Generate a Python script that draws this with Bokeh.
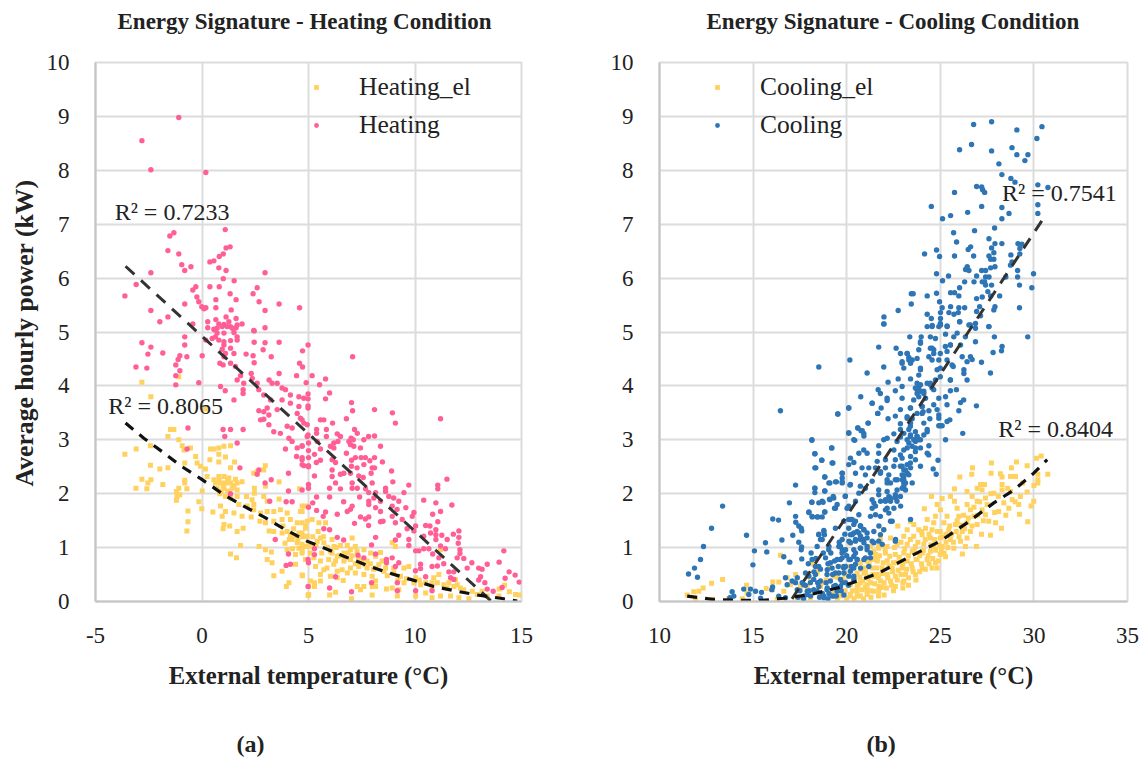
from bokeh.plotting import figure
from bokeh.layouts import row
from bokeh.models import Label, Legend, LegendItem, FixedTicker, ColumnDataSource, LinearAxis, Title
from bokeh.embed import file_html
from bokeh.resources import INLINE

heating = [(-1.09,8.98),(-2.82,8.55),(-2.4,8.01),(.18,7.96),(1.09,6.9),(-1.32,6.84),(-1.51,6.78),(-1.6,6.51),(-1.09,6.45),(-.95,6.25),(-.81,6.14),(-.52,6.21),(-2.4,6.1),(.37,6.3),(.56,6.32),(.81,6.4),(1,6.45),(1.13,6.56),(1.32,6.58),(.79,6.19),(1.13,6.14),(2.96,6.1),(1,5.99),(1.51,5.95),(-3.09,5.88),(-3.62,5.67),(-.29,5.84),(-.43,5.78),(.37,5.84),(.81,5.84),(2.59,5.82),(2.4,5.71),(-.24,5.65),(.65,5.6),(1.32,5.71),(1.6,5.6),(2.68,5.56),(-.15,5.56),(-.81,5.52),(-.01,5.47),(.09,5.43),(.18,5.45),(.65,5.45),(1.37,5.41),(3.62,5.52),(4.58,5.45),(2.96,5.4),(-2.4,5.4),(-1.6,5.28),(-1.98,5.19),(-.43,5.15),(.65,5.23),(1.13,5.28),(1.6,5.25),(.27,5.19),(1.88,5.15),(.79,5.15),(1.03,5.14),(1.26,5.19),(1.34,5.1),(1.18,5.1),(.27,5.08),(.56,5.05),(1.6,5.08),(2.96,5.08),(2.43,5.03),
(.71,5.07),(.95,5.1),(1.42,5.07),(1.65,5.13),(.59,5.04),(.71,4.98),(1.03,4.98),(1.5,4.99),(1.65,4.91),(.63,4.91),(.79,4.85),(1.03,4.82),(1.34,4.84),(1.65,4.85),(.18,4.85),(.48,4.88),(-.81,4.91),(-.81,4.76),(.01,4.56),(-2.82,4.8),(-2.4,4.72),(-2.54,4.59),(-1.84,4.61),(-1.04,4.56),(-1.12,4.49),(-.71,4.54),(-1.23,4.39),(-3.1,4.35),(-2.59,4.33),(-1.23,4.19),(-1.04,4.28),(-1.23,4.02),(-.15,4.06),(1.03,4.76),(.95,4.68),(1.1,4.6),(1.34,4.7),(1.5,4.6),(1.03,4.54),(.84,4.42),(.99,4.39),(1.34,4.42),(1.57,4.36),(2.45,5.02),(2.45,4.81),(2.96,4.8),(3.62,4.81),(2.87,4.67),(2.07,4.59),(2.4,4.56),(2.45,4.43),(3.25,4.54),(4.72,4.65),(4.58,4.42),(4.72,4.35),(4.44,4.19),(3.62,4.23),(1.81,4.19),(2.31,4.23),(2.36,4.14),(1.65,4.11),(1.96,4.05),(3.15,4.11),(3.29,4.05),(3.53,4.05),(.87,3.99),(1.09,3.91),(1.93,3.93),(1.93,3.86),(1.5,3.74),(2.59,4.05),(2.67,3.93),(2.9,3.83),(3.22,3.74),(3.76,3.96),(3.92,3.93),(4.15,3.83),(4.55,3.8),(4.78,3.77),(3.76,3.74),(4.15,3.68),(4.55,3.62),(3.06,3.59),(2.9,3.52),(2.67,3.54),(2.9,3.38),(2.75,3.37),(3.14,3.46),(3.53,3.56),(3.14,3.28),(3.37,3.15),(3.68,3.12),(4,3.25),(4.23,3.22),(4.47,3.49),(4.62,3.4),(4.78,3.31),(4.08,3.03),(4.23,2.97),(4.94,3.06),(3.92,2.83),(4.47,2.85),(4.7,2.89),(4.44,2.69),(4.7,2.63),(4.78,2.52),(5,2.5),(-.66,3.22),(.99,3.19),(1.34,3.19),(1.93,3.19),(1.07,3.06),(1.65,2.94),(-.7,2.83),(1.78,2.48),(2.67,2.44),(4.06,2.38),(2.59,2.36),(3.25,2.26),(2.96,2.2),(4.06,2.05),(3.18,1.86),(3.95,1.85),(4.23,1.85),(3.44,1.15),(4.06,.88),(4.15,.69),(5,.72),(3.95,.67),(1.34,2),
(4.98,4.76),(5.17,4.19),(5.8,4.13),(5.52,4.02),(4.89,4.06),(5.99,3.87),(5.8,3.76),(4.98,3.85),(4.98,3.76),(4.98,3.63),(4.98,3.59),(7.07,4.54),(7.02,3.69),(7.07,3.54),(8.1,3.56),(8.94,3.5),(9.08,3.31),(11.2,3.39),(6.78,3.39),(5.56,3.37),(5.72,3.37),(6.13,3.31),(4.7,3.37),(4.94,3.28),(5.38,3.19),(5.84,3.19),(5.38,3.12),(5.84,3.06),(4.98,3.09),(6.35,3.11),(6.5,3.06),(7.16,3.19),(7.29,3.12),(7.82,3.06),(8.1,3.07),(7.6,3),(7,3.03),(6.9,2.97),(7.1,3),(6.19,2.94),(6.03,2.88),(6.38,2.97),(6.97,2.91),(7.13,2.88),(7.44,2.85),(8.38,2.88),(5.41,2.97),(5,2.94),(4.7,2.88),(5,2.8),(6.19,2.85),(5.56,2.83),(6.78,2.75),(5.28,2.73),(7.2,2.67),(7.47,2.67),(7.67,2.67),(8.1,2.67),(7.88,2.61),(8.47,2.59),(6.11,2.63),(6.27,2.58),(5.56,2.62),(5.37,2.58),(5,2.67),(4.7,2.67),(4.7,2.54),(5,2.52),(7.02,2.62),(7.02,2.51),(7.28,2.48),(7.6,2.54),(7.99,2.48),(8.1,2.48),(7.94,2.38),(8.9,2.42),(6.11,2.44),(6.11,2.32),(6.66,2.38),(6.5,2.36),(6.97,2.38),(7.36,2.33),(7.57,2.3),(5.28,2.33),(8.96,2.22),(7.99,2.2),(9.71,2.16),(11.5,2.27),(11.07,2.16),(11.07,2.09),(6.27,2.2),(5.99,2.1),(6.5,2.09),(7.05,2.2),(7.05,2.1),(7.29,2.1),(7.68,2.09),(7.83,2.02),(8.15,2.02),(8.62,2.1),(8.62,2.04),(9.48,2.02),(5,2.17),(5,2.1),(4.7,2.07),
(5.38,1.94),(5.99,1.94),(6.65,1.85),(7.4,1.94),(7.83,1.86),(8.07,1.92),(8.38,1.86),(8.77,1.95),(9,1.92),(9.24,1.86),(10.41,1.88),(10.98,1.83),(11.73,1.79),(5.2,1.83),(5,1.75),(5.38,1.69),(5.8,1.66),(5.69,1.58),(6.35,1.62),(6.82,1.67),(7.05,1.77),(6.97,1.71),(7.83,1.8),(8.15,1.74),(8.38,1.67),(8.93,1.77),(9.16,1.71),(9.57,1.74),(9.95,1.65),(9.87,1.58),(11.2,1.67),(10.83,1.62),(11.07,1.48),(7.44,1.57),(7.67,1.53),(7.83,1.57),(7.16,1.45),(7.82,1.41),(8.38,1.48),(8.5,1.49),(8.93,1.58),(9.08,1.46),(9.4,1.52),(9.63,1.35),(10.03,1.4),(10.5,1.41),(10.7,1.4),(5.72,1.35),(5.99,1.33),(9.95,1.31),(10.41,1.21),(10.73,1.27),(10.98,1.33),(10.98,1.24),(10.98,1.15),(11.26,1.23),(11.8,1.25),(12.06,1.31),(12.06,1.19),(12.03,1.08),(11.51,1.15),(9.71,1.15),(9.71,1.04),(9.24,1.23),(9.08,1.14),(6.35,1.19),(6.65,1.14),(8.15,1.19),(7.96,1.05),
(10.03,.94),(10.18,.94),(10.41,.98),(10.65,.98),(11.2,1.03),(11.43,.98),(10.83,.88),(11.12,.81),(11.35,.7),(12.11,.96),(12.11,.89),(11.98,.81),(12.29,.8),(14.17,.94),(13.95,.73),(12.67,.72),(13.39,.69),(12.99,.62),(13.15,.6),(12.45,.62),(14.42,.55),(14.7,.49),(14.89,.36),(13.08,.46),(12.99,.4),(14.23,.43),(14.09,.26),(13.67,.19),(13.28,.35),(13.39,.23),(11.59,.55),(11.67,.44),(11.82,.55),(11.82,.41),(10.8,.65),(10.26,.69),(10.26,.61),(10.02,.57),(10.5,.46),(11.05,.66),(10.03,.2),(10.8,.2),(9.17,.35),(9.17,.2),(8.93,.81),(8.66,.78),(8.66,.72),(9.24,.72),(9.08,.65),(8.15,.88),(7.6,.81),(7.32,.86),(7.96,.35),(7.02,.18),(5.99,.25),(6.27,.46),(4.98,.28),(5.28,.87),(4.98,.78),(5.28,.98)]

heating_el = [(-2.82,4.07),(-2.4,3.8),(-1.09,4.17),(.16,3.57),(-1.48,3.19),(-1.32,3.19),(-1.6,3.06),(-1.09,3),(-.93,2.89),(-2.42,2.89),(-3.09,2.83),(-3.62,2.73),(-.84,2.81),(-.54,2.85),(.4,2.83),(.56,2.83),(.79,2.85),(1.03,2.88),(1.34,2.89),(.79,2.73),(1.1,2.68),(.37,2.63),(.79,2.59),(-.3,2.69),(-.23,2.57),(-.81,2.57),(-.07,2.51),(.16,2.46),(-2.42,2.53),(-1.98,2.46),(-1.6,2.48),(1.53,2.59),(1.34,2.48),(2.97,2.52),(2.9,2.44),(2.43,2.38),(2.59,2.41),(-2.82,2.27),(-2.4,2.26),(-2.54,2.2),(-3.1,2.1),(-2.59,2.09),(-1.84,2.17),(-.81,2.2),(-.81,2.25),(-1.09,2.1),(-.71,2.09),(-1.2,2.04),(-1.17,1.95),(-1.2,1.88),(-1.04,1.98),(.01,2.05),(.24,2.32),(.56,2.26),(.79,2.32),(1.03,2.32),(1.26,2.29),(1.57,2.27),(.63,2.2),(.87,2.2),(1.1,2.2),(1.34,2.2),(1.65,2.2),(1.88,2.22),(.71,2.1),(1.03,2.1),(1.42,2.1),(1.65,2.07),(.84,2),(1.1,1.95),(1.65,1.95),(1.34,1.92),(2.46,2.1),(2.46,2.01),(2.98,2.14),(3.62,2.22),(2.09,1.95),(2.9,1.95),(2.35,1.89),(2.43,1.8),(3.06,1.86),(3.62,1.9),(4.58,2.09),(1.73,1.8),(2.12,1.77),(2.43,1.7),(-.15,1.85),(-.01,1.72),(-.66,1.68),(-.66,1.48),(-.71,1.31),(.51,1.66),(.87,1.77),(1.1,1.67),(1.5,1.64),(1.88,1.58),(2.31,1.57),(2.75,1.64),(3.06,1.67),(3.37,1.67),(3.68,1.7),(4,1.64),(4.62,1.67),(4.78,1.77),(.95,1.58),(1.03,1.43),(.99,1.35),(1.3,1.4),(1.65,1.3),(1.93,1.36),(2.72,1.49),(2.98,1.46),(3.37,1.49),(3.76,1.52),(4.15,1.52),(4.47,1.46),(4.86,1.4),(3.15,1.31),(3.37,1.3),(3.76,1.27),(4.15,1.24),(4.55,1.27),(4.86,1.21),(4.23,1.15),(4.47,1.09),(4.78,1.02),(5,1.07),(1.81,1.04),(2.68,1.02),(2.98,.96),(3.26,.92),(4,.96),(4.55,.99),(1.34,.88),(1.62,.81),(3.06,.78),(3.29,.72),(4.39,.87),(4.7,.9),(4.39,.69),(3.76,.56),(3.37,.48),(4.72,.48),(4.08,.35),(3.96,.28),(5.01,.13),(5.01,.28),
(4.7,1.77),(4.98,1.77),(4.7,1.67),(5.17,1.52),(4.94,1.49),(4.7,1.46),(5.49,1.46),(5.8,1.46),(4.86,1.36),(4.7,1.27),(4.94,1.21),(5.56,1.18),(5.41,1.12),(6.11,1.15),(7.05,1.18),(8.93,1.09),(9.08,1.02),(11.2,.96),(4.7,1.06),(5,1.02),(5.25,1.02),(5.72,1.09),(6.2,1.02),(6.5,1.04),(6.82,1.04),(7.2,1.02),(7.6,.96),(8.38,.91),(4.7,.93),(5.09,.9),(5.62,.9),(6.03,.93),(6.35,.84),(6.66,.9),(6.97,.96),(7.28,.93),(7.92,.9),(8.15,.84),(4.86,.78),(5.25,.81),(5.56,.75),(5.95,.78),(6.27,.75),(6.66,.75),(6.97,.78),(7.36,.81),(7.75,.75),(8.46,.75),(5.33,.65),(5.87,.62),(6.19,.69),(6.58,.59),(6.97,.62),(7.36,.65),(7.75,.62),(8.15,.62),(8.62,.62),(9,.62),(9.48,.62),(9.71,.65),(5.56,.5),(5.72,.59),(6.03,.47),(6.35,.56),(6.82,.53),(7.2,.53),(7.6,.5),(7.99,.47),(8.54,.56),(9,.53),(9.32,.47),(10.03,.44),(4.7,.49),(5.09,.38),(5.28,.35),(5.28,.28),(5.56,.38),(6.35,.44),(6.63,.39),(7.29,.28),(7.6,.28),(7.44,.22),(7.99,.28),(8.15,.38),(8.15,.28),(8.66,.23),(8.93,.25),(9.24,.22),(9.48,.35),(9.95,.35),(10.26,.31),(10.5,.35),(10.88,.44),(11.12,.5),(10.8,.35),(10.8,.25),(11.05,.35),(11.35,.31),(11.59,.35),(11.9,.41),(11.98,.31),(12.13,.25),(12.29,.22),(11.2,.1),(10.8,.07),(10.5,.16),(10.03,.1),(9.17,.1),(7.99,.12),(7.02,.05),(6.27,.17),(5.99,.12),(4.98,.11),(11.51,.25),(11.82,.28),(11.67,.1),(12.06,.07),(12.53,.05),(12.69,.19),(12.92,.13),(13.15,.19),(13.39,.1),(13.95,.23),(14.2,.3),(14.43,.18),(14.72,.13),(14.93,.12),(13.94,.1),
(5.2,1.2),(5.35,1.05),(5.45,1.3),(5.7,1.2),(5.9,1),(6.1,.9),(6.3,1),(6.45,.85),(6.7,.8),(6.85,.9),(7.05,.85),(7.2,.7),(7.5,.75),(7.65,.68),(7.9,.7),(8.05,.6),(8.3,.68),(8.7,.48),(9.2,.4),(9.6,.42),(10.2,.4),(1,2.15),(.8,2.25),(1.2,2.05),(1.5,2.15),(1.2,2.25),(.9,2.05),(3.8,1.4),(4,1.3),(4.3,1.35),(4.5,1.15),(4.7,1.2),(4.4,1.22),(4.1,1.15),(3.9,1.08),(4.25,.98)]

heating_trend = [(-3.59,6.22),(13.6,0)]
heating_el_trend = [(-3.59,3.31),(-2.73,3.03),(-1.87,2.78),(-1.01,2.52),(.01,2.26),(1.03,1.98),(1.96,1.77),(2.9,1.57),(3.84,1.35),(4.93,1.12),(5.56,1.02),(6.66,.84),(7.75,.67),(8.77,.53),(9.79,.41),(10.88,.28),(11.98,.19),(12.92,.12),(14.02,.06),(14.8,.01)]

cooling = [(26.78,8.85),(27.74,8.9),(29.09,8.75),(30.43,8.81),(30.16,8.59),(26.67,8.48),(26.03,8.38),(27.74,8.36),(28.83,8.42),(29.09,8.29),(29.68,8.29),(29.52,8.18),(28.13,8.12),(28.29,7.92),(28.77,7.85),(28.99,7.78),(30.21,7.73),(30.75,7.68),(26.94,7.7),(27.21,7.69),(27.26,7.64),(27.37,7.59),(25.76,7.59),(30.21,7.36),(27.21,7.33),(28.29,7.31),(24.52,7.33),(26.46,7.22),(25.55,7.16),(25.12,7.1),(28.67,7.2),(28.29,7.1),(30.21,7.2),(27.9,6.93),(26.83,6.88),(25.71,6.84),(25.87,6.67),(27.6,6.73),(27.92,6.64),(28.29,6.64),(29.15,6.64),(29.36,6.63),(26.62,6.58),(26.49,6.53),(27.74,6.56),(29.25,6.55),(24.16,6.45),(24.8,6.52),(24.96,6.4),(25.76,6.41),(26.78,6.41),(27.86,6.47),(27.6,6.41),(27.69,6.35),(27.86,6.35),(29.25,6.45),(28.77,6.43),(28.83,6.3),(28.75,6.24),(26.44,6.21),(26.35,6.16),(26.53,6.14),(27.69,6.19),(27.92,6.21),(27.21,6.14),(27.42,6.14),(24.8,6.08),(25.44,6.04),(25.12,5.95),(26.94,6.04),(26.3,5.93),(26.8,5.93),(27.24,5.93),(27.42,6.02),(27.6,6.02),(27.37,5.93),(27.42,5.87),(27.74,5.87),(29.13,6.14),(29.13,6.02),(29.98,6.08),(29.23,5.87),(29.89,5.82),(28.5,6.02),(26.03,5.82),(25.55,5.73),(25.76,5.73),(25.99,5.67),(23.45,5.71),(23.55,5.71),(24.3,5.67),(24.8,5.72),(24.96,5.56),(23.45,5.52),(26.94,5.62),(27.24,5.65),(27.54,5.75),(27.69,5.67),(28.17,5.67),(22.75,5.4),(21.99,5.28),(21.99,5.15),(25.1,5.45),(25.55,5.47),(25.99,5.45),(26.3,5.45),(27.1,5.47),(27.92,5.47),(27.86,5.41),(29.23,5.45),(24.3,5.33),(25.01,5.36),(25.46,5.36),(25.73,5.33),(25.96,5.36),(26.94,5.38),(24.52,5.25),(25.01,5.25),(27.15,5.3),(26.03,5.19),(26.53,5.13),(26.88,5.16),(27.6,5.1),(24.3,5.1),(24.57,5.12),(25.01,5.13),(25.37,5.1),(26.88,5.07),
(21.98,5.15),(24.56,5.1),(25,5.16),(24.92,5.1),(25.36,5.11),(26.04,5.19),(26.61,5.13),(27.59,5.1),(23.37,4.91),(23.98,4.91),(24.47,4.91),(24.74,4.88),(23.94,4.79),(25.28,4.96),(25.9,4.98),(25.72,4.91),(26.34,4.91),(26.88,4.82),(27.89,4.91),(29.67,4.91),(28.3,4.73),(28.27,4.65),(27.82,4.62),(21.71,4.72),(22.64,4.7),(23.85,4.67),(24.47,4.7),(24.65,4.67),(25,4.6),(25.36,4.64),(25.54,4.76),(26.08,4.76),(26.61,4.54),(20.17,4.48),(22.87,4.6),(23.23,4.6),(23.32,4.53),(23.5,4.48),(23.76,4.51),(24.39,4.54),(24.56,4.48),(24.92,4.48),(25.36,4.48),(26.17,4.54),(26.43,4.45),(26.7,4.49),(27.2,4.44),(18.51,4.35),(21.98,4.35),(22.96,4.42),(23.41,4.42),(21.09,4.24),(23.94,4.3),(23.85,4.2),(24.83,4.3),(25.69,4.36),(26.26,4.3),(26.26,4.23),(27.68,4.24),(22.21,4.07),(22.75,4.13),(23.41,4.13),(22.96,3.99),(23.76,4.05),(24.3,4.05),(24.47,4.02),(25,4.17),(25.54,4.11),(26.43,4.11),(21.68,3.93),(21.8,3.86),(22.6,3.91),(23.85,3.96),(23.76,3.86),(24.12,3.9),(24.56,3.96),(25.54,3.91),(25.86,3.93),(20.75,3.8),(22.16,3.77),(22.16,3.73),(22.96,3.77),(23.58,3.74),(24.21,3.77),(25.28,3.8),(24.92,3.77),(26.25,3.74),(26.08,3.69),(21.36,3.68),(20.11,3.59),(21.84,3.59),(22.87,3.56),(23.41,3.59),(24.03,3.62),(24.65,3.65),(25.36,3.65),(26.93,3.63),(19.52,3.48),(21.66,3.49),(22.6,3.44),(23.23,3.43),(24.03,3.49),(24.39,3.54),(24.83,3.56),(25.99,3.54),(22.21,3.39),(23.5,3.39),(24.44,3.39),(24.92,3.4),(25.51,3.37),(22.87,3.3),(23.41,3.31),(24.12,3.31),(24.92,3.26),(25.1,3.26),(25.36,3.34),(20.59,3.22),(21.14,3.31),(20.77,3.17),(20.11,3.13),(26.2,3.12),(20.38,3),(20.91,3.12),(23.32,3.19),(23.67,3.15),(24.3,3.15),(24.12,3.09),(22.16,3.03),(22.52,3.11),(22.87,3.05),(23.41,3.09),(23.76,3.06),(25.28,3),(18.14,3),(21.71,2.89),(21.98,3),(22.69,2.97),(23.23,3),(23.67,2.97),(23.94,3),(24.39,2.89),(19.2,2.85),(20.91,2.81),(18.3,2.74),(20.65,2.75),(21.09,2.75),(21.71,2.75),(22.52,2.81),(23.23,2.85),(23.67,2.78),(23.94,2.85),(24.3,2.75),(18.67,2.62),(19.26,2.57),(18.3,2.48),(20.2,2.66),(20.11,2.54),(20.38,2.58),(21.63,2.6),(22.07,2.63),(22.6,2.63),(22.96,2.66),(23.41,2.69),(23.67,2.63),(24.88,2.62),(20.82,2.48),(21.18,2.48),(21.54,2.48),(22.07,2.48),(22.52,2.51),(22.87,2.51),(23.23,2.54),(23.05,2.44),(23.41,2.48),(24.62,2.46),(24.78,2.36),(18.83,2.31),(19.76,2.38),(19.76,2.29),(20.47,2.38),(21,2.35),(21.8,2.38),(22.25,2.35),(22.96,2.35),(23.32,2.35),(19.1,2.2),(19.45,2.22),(19.76,2.2),(20.2,2.17),(21.36,2.23),(22.16,2.2),(22.6,2.26),(23.05,2.2),(23.5,2.2),(18.3,2.1),(18.3,2.02),(18.83,2.05),(20.73,2.14),(21,2.1),(21.71,2.07),(22.16,2.04),(22.69,2.07),(23.14,2.07),(19.93,1.96),(20.65,2.01),(21.71,1.98),(22.25,1.95),(22.6,1.98),(22.87,1.95),(19.1,1.89),(19.31,1.92),(18.14,1.84),(18.51,1.83),(18.74,1.84),(19.49,1.8),(20.47,1.86),(21.36,1.89),(22.07,1.86),(22.34,1.86),(22.69,1.86),(17.98,1.66),(18.15,1.58),(18.42,1.57),(18.69,1.57),(18.83,1.66),(19.4,1.73),(20.02,1.73),(21.54,1.77),(22.07,1.7),(22.52,1.73),(21.54,1.61),(21.8,1.58),(22.25,1.64),(22.43,1.49),(19.84,1.49),(20.29,1.52),(20.47,1.49),(17.57,1.36),(18.78,1.32),(19.4,1.36),(20.11,1.36),(20.73,1.4),(20.91,1.33),(18.81,1.24),(18.51,1.24),(20.2,1.24),(20.65,1.27),(21.09,1.27),(21.8,1.24),(18.6,1.15),(19.76,1.15),(20.47,1.12),(20.91,1.15),(21.36,1.12),(22.6,1.12),(18.42,1.02),(19.58,1.02),(20.73,.99),(21.09,1.02),(21.71,1.12),(17.57,.96),(19.04,.96),(19.84,.93),(20.47,.9),(21.27,.9),(18.15,.78),(18.87,.81),(19.49,.78),(20.2,.78),(21,.81),(18.51,.65),(19.22,.62),(19.84,.62),(20.47,.69),(21.18,.65),(17.8,.53),(18.33,.5),(18.95,.5),(19.58,.53),(20.2,.56),(17.62,.35),(18.06,.35),(18.6,.38),(19.13,.38),(19.67,.41),(20.38,.41),(18.42,.19),(18.95,.22),(19.49,.19),(17.89,.13),(18.78,.07),(19.31,.1),
(16.46,3.54),(13.37,1.77),(12.78,1.36),(12.35,1.02),(12.19,.78),(11.87,.62),(11.55,.51),(12.03,.45),(19.53,3.48),(20.11,3.59),(21.36,3.68),(21.66,3.49),(21.15,3.31),(20.11,3.12),(20.6,3.22),(20.83,3.17),(20.92,3.07),(18.14,2.99),(20.43,2.99),(19.2,2.85),(18.3,2.74),(18.67,2.62),(19.22,2.57),(18.35,2.48),(18.83,2.31),(19.4,2.22),(19.76,2.38),(19.76,2.22),(19.05,2.2),(17.27,2.16),(18.3,2.1),(18.83,2.05),(20.17,2.16),(19.28,1.95),(19.08,1.9),(19.92,1.95),(16.94,1.83),(18.14,1.84),(18.69,1.86),(19.35,1.73),(17.98,1.65),(18.83,1.66),(18.16,1.57),(18.46,1.57),(17.27,1.58),(16.05,1.53),(16.36,1.51),(17.28,1.47),(17.44,1.4),(17.6,1.31),(14.65,1.23),(17.12,1.23),(16.54,1.14),(15.66,1.09),(17.44,1.1),(17.59,1.01),(15.07,.94),(15.73,.92),(16.64,.83),(16.96,.73),(17.6,.79),(14.99,.68),(16.73,.44),(17.36,.44),(17.27,.35),(17.09,.38),(16.82,.31),(16.04,.27),(15.13,.19),(14.86,.23),(14.5,.23),(13.88,.18),(13.76,.07),(13.97,.1),(14.77,.13),(15.45,.17),(16,.22),(15.4,.06),(16.37,.1),(16.73,.07),(17.36,.22),(17.71,.31),(17.98,.47),(17.71,.1),(18.33,.65),(18.24,.41),(18.24,.22),(18.78,.1),(19.05,1.02),(18.69,1.15),(18.78,1.3),(18.51,1.25),(19.67,1.02),(19.76,.96),(20.11,1.52),(20.11,1.77),(20.38,1.27),(20.65,1.61),(20.74,1.4),(21.27,1.58),(20.2,1.09),(20.74,1.15),(21.45,1.3),(20.38,.84),(19.67,.78),(19.13,.72),(18.96,.59),(19.4,.53),(19.85,.65),(20.56,.78),(17.89,.19),(18.07,.1),(18.51,.28),(18.96,.25),(19.31,.28),(19.22,.1),(19.67,.28),
(23.14,2.44),(22.96,2.51),(23.23,2.38),(23.05,2.32),(23.4,2.57),(23.58,3),(23.76,3.06),(23.4,3.06),(23.49,2.88),(23.67,2.85),(23.85,3),(23.94,3.9),(23.76,3.93),(24.12,3.86),(23.85,3.8),(23.67,3.96),(23.94,4.02),(24.47,4.05),(24.65,3.93),(24.74,4.11),(24.03,3.62),(24.08,3.52),(23.76,3.49),(23.4,3.59),(23.23,3.4),(23.05,3.12),(23.4,3.25),(24.3,3.19),(24.38,2.72),(23.94,2.51),(22.96,2.26),(23.14,2.2),(23.05,2.14),(22.87,3.19),(23.32,2.94),(23.05,2.81),(22.87,2.72),(24.92,3.46),(25,3.26),(25.54,4.11),(25.63,4.39),(25,4.33),(24.56,4.7),(24.65,4.6),(25.27,4.73),(25.54,4.76),(23.94,4.33),(23.94,4.82),(23.23,4.6),(22.96,4.45),(23.32,4.48),(23.05,4.33),
(21.45,1.83),(21.81,1.86),(21.36,1.73),(22.16,2.26),(22.07,1.89),(22.34,1.92),(22.61,1.92),(22.16,1.73),(22.88,1.77),(21.81,2.41),(22.34,2.2),(22.7,2.26),(22.96,2.1),(23.05,2.26),(23.23,2.38),(20.2,1.52),(20.38,1.43),(20.74,1.4),(20.92,1.33),(20.56,1.3),(20.29,1.24),(20.74,1.21),(21.09,1.18),(20.12,1.12),(20.47,1.15),(20.92,1.09),(19.94,.96),(20.38,.96),(20.74,.99),(21.09,.96),(19.76,.81),(20.12,.78),(20.56,.78),(20.92,.78),(21.27,.81),(19.94,.65),(20.38,.62),(20.74,.62),(19.85,.53),(20.12,.47),(20.38,.47),(19.76,.35),(19.94,.35),(21.72,1.4),(21.98,1.33),(21.45,1.09),(21.9,1.06),(22.34,1.49),(22.61,1.15),(23.41,1.52),
(17.8,.3),(17.95,.7),(18.1,.9),(18.25,.55),(18.35,.8),(18.45,.35),(18.6,.6),(18.7,.15),(18.75,.9),(18.9,.35),(19,.7),(19.05,.15),(19.15,.9),(19.25,.5),(19.35,.75),(19.4,.3),(19.55,.65),(19.6,1.1),(19.7,.2),(19.75,.9),(19.9,1.25),(20,.85),(20.1,.3),(20.25,.65),(17.5,.2),(17.4,.08),(17.7,.05),(18,.2),(18.55,.08),(19,.05),(19.45,.1),(19.85,.12)]

cooling_el = [(11.48,.12),(11.83,.18),(12.1,.19),(12.33,.25),(12.78,.34),(13.37,.41),(11.92,.04),(12.81,.04),(13.7,.05),(14.65,.3),(14.68,.16),(14.42,.05),(15.7,.24),(16.05,.36),(16.37,.36),(16.46,.86),(16.02,.22),(16.64,.19),(16.29,.04),(16.82,.44),(17.27,.5),(17,.31),(17.53,.28),(17.36,.07),(18.15,.72),(18.42,.56),(18.07,.38),(18.69,.35),(18.6,.1),(19.67,.65),(20.17,1.09),(19.76,.41),(20.38,.44),(20.74,.72),(20.92,.53),(21.27,.78),(21.45,.93),(21.72,1.02),(21.63,.78),(20.56,.28),(20.83,.22),(21.09,.31),(20.2,.1),(20.56,.1),(21.09,.13),(21.45,.19),(21.72,.28),(21.45,.47),
(30.39,2.7),(30.14,2.66),(30.74,2.36),(30.21,2.36),(30.21,2.26),(30.21,2.2),(29.64,2.52),(29.07,2.59),(28.8,2.48),(28.75,2.32),(29.02,2.32),(28.21,2.37),(28.3,2.31),(27.73,2.57),(27.71,2.38),(26.72,2.48),(26.68,2.36),(26.04,2.31),(27.15,2.17),(27.36,2.17),(26.97,2.1),(27.23,2.07),(25.76,2.09),(26.43,2.04),(28.3,2.17),(28.3,2.07),(29.64,2.03),(28.75,2.04),(27.86,2.01),(24.53,1.95),(25.1,1.91),(25.54,1.95),(25.76,1.86),(26.7,1.95),(26.97,1.86),(27.41,1.92),(29.99,1.86),(29.85,1.77),(29.28,1.95),(29.19,1.8),(28.84,1.89),(28.39,1.83),(28.66,1.73),(29.23,1.62),(29.67,1.48),(24.15,1.72),(24.83,1.8),(25.01,1.7),(25.9,1.73),(26.43,1.8),(26.61,1.7),(27.23,1.7),(28.12,1.67),(24.74,1.58),(25.36,1.58),(25.99,1.58),(26.79,1.58),(27.41,1.61),(27.59,1.49),(27.95,1.46),(28.27,1.36),(24.3,1.52),(23.4,1.49),(23.58,1.43),(24.65,1.46),(25.19,1.46),(25.81,1.43),(26.43,1.46),(26.97,1.43),(21.98,1.33),(22.73,1.4),(23.23,1.33),(23.85,1.33),(24.21,1.36),(24.56,1.33),(25,1.3),(25.45,1.33),(26.17,1.3),(26.61,1.3),(27.2,1.25),(27.68,1.23),(21.8,1.15),(22.34,1.18),(23.05,1.21),(23.58,1.21),(24.03,1.24),(24.47,1.18),(25,1.18),(25.54,1.15),(26.08,1.12),(26.43,1.18),(20.17,1.09),(21.27,1.02),(21.71,.99),(22.16,1.02),(22.69,1.06),(23.23,1.06),(23.67,1.02),(24.12,1.06),(24.65,1.02),(25.1,1.02),(25.72,.99),(26.34,1.02),(26.93,1.02),(21.54,.87),(22.07,.9),(22.6,.87),(23.05,.9),(23.5,.93),(24.03,.9),(24.47,.93),(25,.87),(25.28,.83),(26.18,.88),(21.09,.75),(21.63,.75),(22.16,.75),(22.69,.72),(23.23,.75),(23.76,.78),(24.3,.78),(24.74,.72),(20.91,.62),(21.36,.62),(21.89,.62),(22.43,.62),(22.96,.62),(23.5,.62),(24.03,.62),(24.56,.62),(24.83,.62),(20.56,.53),(21.09,.47),(21.63,.5),(22.16,.5),(22.6,.47),(23.14,.5),(23.67,.5),(20.2,.31),(20.73,.35),(21.27,.35),(21.8,.38),(22.34,.38),(22.6,.28),(23.05,.38),(20.56,.19),(21.09,.22),(21.71,.19),(22.12,.25),(20.2,.13),(20.73,.1),(19.67,.1),(19.13,.13),(18.6,.1),(18.24,.69),(20.2,1.09),(17.89,.28),(18.6,.28),(19.31,.28),(19.84,.38),(18.42,.53),(19.13,.62),(20.2,.65),(19.31,.47),(18.06,.07),(17.62,.07),
(20.3,.2),(20.4,.42),(20.6,.31),(20.7,.45),(20.8,.6),(20.85,.38),(21,.27),(21,.55),(21.15,.42),(21.2,.68),(21.3,.2),(21.4,.5),(21.45,.78),(21.5,.33),(21.6,.62),(21.7,.44),(21.75,.85),(21.85,.26),(21.9,.52),(21.95,.72),(22,.35),(22.05,.98),(22.2,.44),(22.25,.66),(22.3,.84),(22.4,.3),(22.45,.55),(22.5,.72),(22.55,1),(22.7,.4),(22.75,.58),(22.8,.82),(22.9,.5),(22.9,1.1),(23,.35),(23,.7),(23.1,.98),(23.2,.6),(23.3,.44),(23.3,.85),(23.4,1.15),(23.45,.7),(23.55,.55),(23.6,.95),(23.7,.4),(23.7,.78),(23.8,1.1),(23.9,.55),(23.9,.85),(24,.7),(24,1.3),(24.1,.95),(24.2,.6),(24.2,1.15),(24.35,.85),(24.4,.7),(24.4,1.25),(24.5,1.05),(24.6,.8),(24.7,1.15),(24.75,.95),(24.85,1.3),(24.9,.75),(24.95,1.05),(25.05,.95),(25.1,1.2),(25.2,.9),(25.3,1.1),(25.3,1.25),(25.4,1),(25.5,1.4),(25.6,1.25),(25.7,1.1),(25.85,1.3),(25.9,1.5),(26,1.2),(26.1,1.42),(26.25,1.6),(26.3,1.35),(26.5,1.55),(26.7,1.4),(26.8,1.75),(27,1.6),(27.1,1.85),(27.3,1.5),(27.5,1.8),(27.7,2),(27.9,1.65),(28.1,1.95),(28.5,1.6),(28.6,2.1),(29,1.85),(29.4,2.2),(30,2.15),
(18.4,.2),(18.9,.4),(19.3,.15),(19.5,.45),(19.9,.2),(19.9,.5),(20,.05),(19.5,.05),(20.4,.05),(20.9,.05),(21.3,.08),(21.7,.1),(22,.12),(22.5,.2),(23,.25),(23.3,.3)]

cooling_trend = [(17.08,.05),(30.55,7.13)]
cooling_el_trend = [(11.48,.1),(12.81,.04),(14.33,.02),(15.48,.02),(16.64,.06),(18.07,.13),(19.49,.25),(20.56,.38),(21.72,.53),(23.58,.87),(25,1.12),(26.43,1.46),(27.86,1.83),(28.93,2.07),(29.99,2.38),(30.71,2.63)]

y_ticks = [0,1,2,3,4,5,6,7,8,9,10]
x_ticks_a = [-5,0,5,10,15]
x_ticks_b = [10,15,20,25,30,35]

PINK, YELLOW, BLUE = "#ff5f96", "#ffd25f", "#2e75b6"
SERIF = "Liberation Serif"
INK = "#222222"

def xy(points):
    return ColumnDataSource(dict(x=[a for a, _ in points], y=[b for _, b in points]))

def spacer(p, gap, where):
    p.add_layout(LinearAxis(ticker=FixedTicker(ticks=[]), axis_line_color=None, major_tick_line_color=None,
                            minor_tick_line_color=None, major_tick_out=0, minor_tick_out=0,
                            major_label_text_font_size="0px", major_label_standoff=0,
                            axis_label="\u00a0", axis_label_text_font_size="1px", axis_label_standoff=gap), where)

def side_title(p, text, where, offset, size):
    p.add_layout(Title(text=text, align="left", offset=offset, text_font=SERIF, text_font_size=size,
                       text_font_style="bold", text_color=INK), where)

def panel(title, title_offset, xr, xticks, w, bl, br, caption, caption_offset):
    p = figure(width=w, height=761, x_range=xr, y_range=(0, 10), output_backend="svg",
               toolbar_location=None, min_border_left=bl, min_border_right=br,
               min_border_top=62, min_border_bottom=159)
    for ax in (p.xaxis[0], p.yaxis[0]):
        ax.axis_line_color = "#c4c4c4"
        ax.axis_line_width = 2
        ax.major_tick_line_color = None
        ax.minor_tick_line_color = None
        ax.major_label_text_font = SERIF
        ax.major_label_text_font_size = "23px"
        ax.major_label_text_color = INK
        ax.major_label_standoff = 20
        ax.axis_label_text_font = SERIF
        ax.axis_label_text_font_size = "24.7px"
        ax.axis_label_text_font_style = "bold"
        ax.axis_label_text_color = INK
    p.xaxis[0].ticker = FixedTicker(ticks=xticks)
    p.xaxis[0].major_label_overrides = {t: str(t) for t in xticks}
    p.yaxis[0].ticker = FixedTicker(ticks=y_ticks)
    p.xaxis[0].axis_label = "External temperature (°C)"
    p.xaxis[0].axis_label_standoff = 16
    p.xgrid[0].ticker = FixedTicker(ticks=xticks)
    p.ygrid[0].ticker = FixedTicker(ticks=y_ticks)
    for g in (p.xgrid[0], p.ygrid[0]):
        g.grid_line_color = "#dcdcdc"
        g.grid_line_width = 2
    p.outline_line_color = "#dcdcdc"
    p.outline_line_width = 2
    spacer(p, 20, "above")
    side_title(p, title, "above", title_offset, "23px")
    spacer(p, 28, "below")
    side_title(p, caption, "below", caption_offset, "24px")
    return p

def fill(p, el_pts, main_pts, el_color, main_color, el_name, main_name, el_tr, main_tr, lx):
    r_el = p.scatter("x", "y", source=xy(el_pts), marker="square", size=5, color=el_color, line_color=None)
    r_m = p.scatter("x", "y", source=xy(main_pts), marker="circle", size=5.4, color=main_color, line_color=None)
    p.line("x", "y", source=xy(main_tr), line_color="#333333", line_width=3, line_dash="12 9")
    p.line("x", "y", source=xy(el_tr), line_color="#111111", line_width=3.2, line_dash="10 8")
    lg = Legend(items=[LegendItem(label=el_name, renderers=[r_el]), LegendItem(label=main_name, renderers=[r_m])],
                location=(lx, 461), background_fill_alpha=0, border_line_color=None,
                padding=0, margin=0, spacing=8, glyph_width=12, glyph_height=12, label_height=22,
                label_standoff=37, label_text_font=SERIF, label_text_font_size="25.5px", label_text_color=INK)
    p.add_layout(lg)

def note(p, x, y, text):
    p.add_layout(Label(x=x, y=y, text=text, text_font=SERIF, text_font_size="24px", text_color=INK))

a = panel("Energy Signature - Heating Condition", 22, (-5, 15), x_ticks_a, 568, 95, 47, "(a)", 141)
fill(a, heating_el, heating, YELLOW, PINK, "Heating_el", "Heating", heating_el_trend, heating_trend, 215)
note(a, -4.1, 6.98, "R² = 0.7233")
note(a, -4.4, 3.38, "R² = 0.8065")
side_title(a, "Average hourly power (kW)", "left", 115, "25.7px")

b = panel("Energy Signature - Cooling Condition", 47, (10, 35), x_ticks_b, 572, 91, 13, "(b)", 207)
fill(b, cooling_el, cooling, YELLOW, BLUE, "Cooling_el", "Cooling", cooling_el_trend, cooling_trend, 52)
note(b, 28.3, 7.34, "R² = 0.7541")
note(b, 28.1, 2.96, "R² = 0.8404")

page = row(a, b, spacing=0)
open("out.html", "w").write(file_html(page, INLINE))
